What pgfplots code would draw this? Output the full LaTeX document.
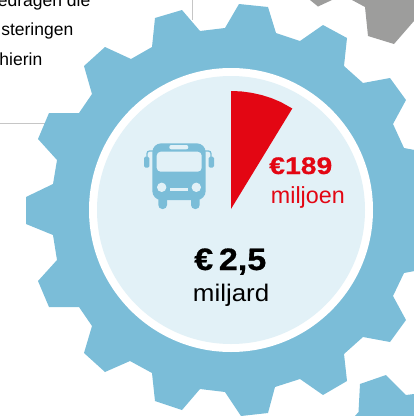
\documentclass[border=0pt]{standalone}
\usepackage{fontspec}
\usepackage{graphicx}
\setmainfont{Liberation Sans}
\usepackage{pgfplots}
\pgfplotsset{compat=1.18}

\definecolor{gearblue}{HTML}{7BBDD8}
\definecolor{paleblue}{HTML}{E2F1F7}
\definecolor{slicered}{HTML}{E30613}
\definecolor{geargray}{HTML}{9D9D9C}
\definecolor{rulegray}{HTML}{C6C6C6}

\begin{document}
\begin{tikzpicture}
  \path[use as bounding box, clip] (0,0) rectangle (414pt,416pt);
  \begin{axis}[
    at={(0,0)}, anchor=south west, scale only axis,
    width=414pt, height=416pt,
    xmin=0, xmax=414, ymin=0, ymax=416, y dir=reverse,
    hide axis]

  % frame lines of the text box behind the gear
  \addplot[rulegray, line width=0.8pt] coordinates {(192,0) (192,20)};
  \addplot[rulegray, line width=0.8pt] coordinates {(0,123.5) (60,123.5)};

  % neighbouring gears
  \addplot[fill=geargray, draw=none] coordinates {(310,0) (318,6.5) (332,0)} -- cycle;
  \addplot[fill=geargray, draw=none] coordinates {(352,0) (365,7) (368,36) (394,44) (414,21) (414,0)} -- cycle;
  \addplot[fill=gearblue, draw=none] coordinates {(360,384) (386,375) (406,395) (414,394) (414,416) (355,416) (358.5,412)} -- cycle;

  % main gear
  \addplot[fill=gearblue, draw=none] coordinates {
    (26,197) (26,224) (53,235) (57,260) (38,281) (49,307) (79,307) (92,326)
    (84,353) (105,372) (130,361) (152,373) (155,401) (182,410) (200,389)
    (225,392) (241,416) (268,413) (275,387) (300,379) (323,395) (347,381)
    (344,354) (363,337) (390,342) (406,320) (393,296) (404,273) (420,270)
    (420,151) (404,148) (393,124) (406,100) (390,78) (363,83) (344,66)
    (347,38) (323,25) (300,41) (276,33) (268,7) (239,4) (225,28) (200,31)
    (182,10) (155,18) (152,47) (131,59) (105,47) (84,66) (92,94) (79,113)
    (49,113) (38,139) (57,160) (53,184)} -- cycle;

  % white ring and pale disc
  \fill[white] (axis cs:231,210) circle[radius=142];
  \fill[paleblue] (axis cs:231,210) circle[radius=134];

  % red slice
  \addplot[fill=slicered, draw=none] coordinates {
    (231,209) (231,91) (241.3,91.4) (251.5,92.8) (261.5,95) (271.4,98.1)
    (280.9,102.1) (292.3,108.5)} -- cycle;

  % bus icon
  \fill[gearblue, rounded corners=9pt] (axis cs:152.3,143.3) rectangle (axis cs:205.7,200);
  \fill[gearblue, rounded corners=4pt] (axis cs:158.3,190) rectangle (axis cs:167,209);
  \fill[gearblue, rounded corners=4pt] (axis cs:191,190) rectangle (axis cs:199.7,209);
  \fill[gearblue, rounded corners=1.5pt] (axis cs:144,156.7) rectangle (axis cs:149.3,167.7);
  \fill[gearblue, rounded corners=1.5pt] (axis cs:208.7,156.7) rectangle (axis cs:214,167.7);
  \draw[gearblue, line width=1.3pt, rounded corners=2.5pt] (axis cs:147,157) -- (axis cs:147,151) -- (axis cs:153,151);
  \draw[gearblue, line width=1.3pt, rounded corners=2.5pt] (axis cs:211,157) -- (axis cs:211,151) -- (axis cs:205,151);
  \fill[paleblue, rounded corners=4pt] (axis cs:156.7,151.7) rectangle (axis cs:201.7,171.7);
  \fill[paleblue, rounded corners=2pt] (axis cs:169.3,145) rectangle (axis cs:188.3,149.3);
  \fill[paleblue] (axis cs:170,188.3) rectangle (axis cs:188.3,190.7);
  \fill[paleblue] (axis cs:161.7,187.3) circle[radius=4.7];
  \fill[paleblue] (axis cs:196.3,187.3) circle[radius=4.7];

  % labels
  \tikzset{every node/.append style={inner sep=0pt, anchor=base east}}
  \node[text=slicered, font=\fontsize{24}{24}\selectfont\bfseries\addfontfeature{FakeBold=0.5}] at (axis cs:332.5,174) {\scalebox{1.18}[1]{€189}};
  \node[text=slicered, font=\fontsize{23.3}{24}\selectfont] at (axis cs:345,203) {miljoen};
  \node[font=\fontsize{31}{31}\selectfont\bfseries\addfontfeature{FakeBold=0.5}] at (axis cs:266.5,270) {\scalebox{1.1}[1]{€\,2,5}};
  \node[font=\fontsize{24}{24}\selectfont] at (axis cs:269.5,301) {\scalebox{1.08}[1]{miljard}};

  % text cut off by the crop
  \node[font=\fontsize{17.5}{17.5}\selectfont] at (axis cs:90.5,6) {edragen die};
  \node[font=\fontsize{17.5}{17.5}\selectfont] at (axis cs:73.5,35) {steringen};
  \node[font=\fontsize{17.5}{17.5}\selectfont] at (axis cs:42.5,65) {hierin};
  \end{axis}
\end{tikzpicture}
\end{document}
